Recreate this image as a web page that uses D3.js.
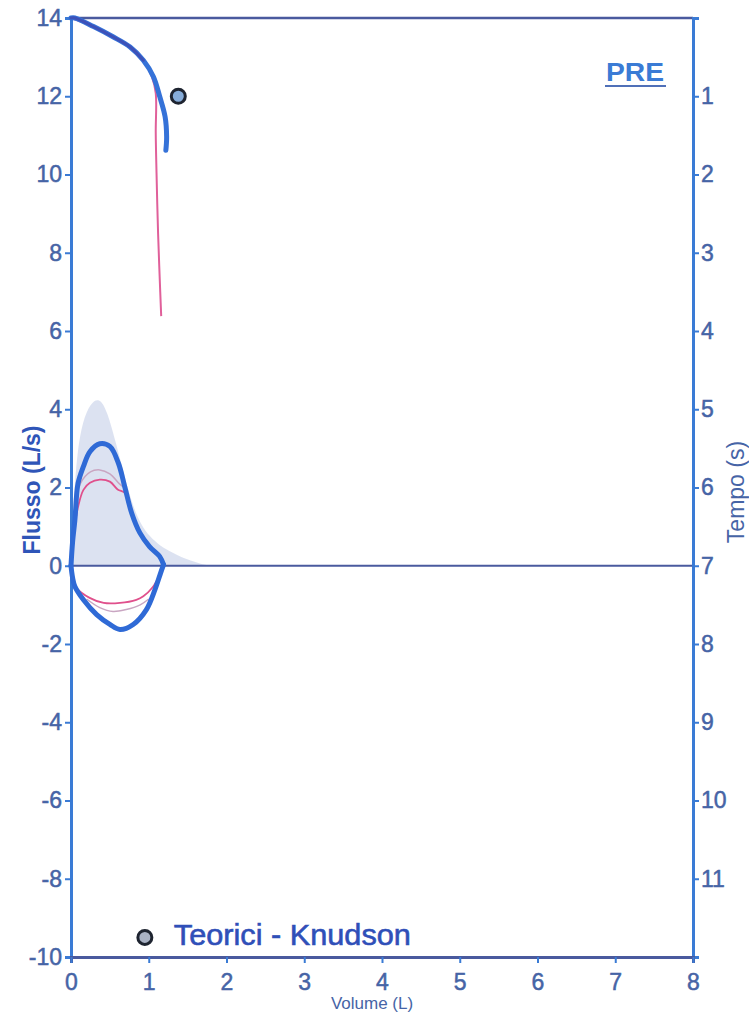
<!DOCTYPE html>
<html><head><meta charset="utf-8">
<script src="https://cdn.jsdelivr.net/npm/d3@7"></script>
<style>html,body{margin:0;padding:0;background:#fff;overflow:hidden}</style>
</head><body>
<svg id="c" width="749" height="1015"></svg>
<script>
// ---- data ----
const flowTicks = [-10,-8,-6,-4,-2,0,2,4,6,8,10,12,14];
const timeTicks = [1,2,3,4,5,6,7,8,9,10,11];
const volTicks = [0,1,2,3,4,5,6,7,8];
// flow-volume, best trial (blue): [volume, flow]
const blueExp = [[0,0],[0.02,0.6],[0.05,1.17],[0.09,2.1],[0.16,2.54],[0.245,2.92],[0.37,3.12],[0.5,3.05],[0.61,2.62],[0.69,2.03],[0.78,1.35],[0.886,0.84],[1.01,0.49],[1.14,0.24],[1.19,0.03]];
const blueInsp = [[1.19,0.03],[1.15,-0.2],[1.08,-0.61],[0.97,-1.12],[0.8,-1.5],[0.63,-1.63],[0.5,-1.5],[0.33,-1.25],[0.16,-0.87],[0.05,-0.53],[0.02,-0.3],[0,0]];
// second trial (pink)
const pinkExp = [[0,0],[0.04,0.9],[0.09,1.5],[0.16,1.94],[0.244,2.12],[0.37,2.2],[0.5,2.15],[0.6,1.95],[0.7,1.85],[0.78,1.35],[0.886,0.84],[1.01,0.49],[1.14,0.24],[1.18,0]];
const pinkInsp = [[1.15,-0.2],[1.05,-0.55],[0.93,-0.78],[0.84,-0.87],[0.63,-0.95],[0.42,-0.95],[0.24,-0.82],[0.07,-0.57],[0.02,-0.4]];
// third trial (faint)
const greyExp = [[0.05,1.5],[0.12,2.1],[0.25,2.4],[0.37,2.45],[0.5,2.35],[0.62,2.1],[0.68,2.0]];
const greyInsp = [[1.0,-0.85],[0.89,-1.0],[0.71,-1.12],[0.54,-1.17],[0.37,-1.07],[0.2,-0.85]];
// predicted flow-volume area (Knudson)
const predArea = [[0,0],[0.03,1.6],[0.08,2.9],[0.15,3.7],[0.25,4.15],[0.36,4.3],[0.46,4.0],[0.59,3.05],[0.7,2.2],[0.8,1.5],[0.9,1.05],[1.01,0.75],[1.15,0.5],[1.31,0.33],[1.5,0.15],[1.66,0.05],[1.8,0]];
// volume-time: [volume, time]
const blueVT = [[0,0],[0.05,0.0],[0.29,0.11],[0.54,0.24],[0.76,0.37],[0.93,0.54],[1.06,0.75],[1.14,1.0],[1.21,1.26],[1.23,1.52],[1.22,1.69]];
const pinkVT = [[0,0],[0.29,0.11],[0.54,0.24],[0.76,0.37],[0.93,0.54],[1.04,0.75],[1.09,0.96],[1.09,1.47],[1.1,1.98],[1.12,2.75],[1.14,3.3],[1.16,3.81]];
const predFEV1 = [1.38, 1.0];   // [volume, time]
const legendPt = [0.95, -9.5];  // [volume, flow]

// ---- scales ----
const svg = d3.select("#c");
const x = d3.scaleLinear().domain([0,8]).range([71,693]);
const y = d3.scaleLinear().domain([-10,14]).range([957,18]);
const t = d3.scaleLinear().domain([0,12]).range([18,957]);

const tickCol = "#4664a6";
const axisBlue = "#3a7bd5";
const darkLine = "#4a5a9e";
const fmt = d => String(d).replace("\u2212","-");

// predicted area
svg.append("path").datum(predArea)
  .attr("d", d3.area().x(d=>x(d[0])).y0(y(0)).y1(d=>y(d[1])).curve(d3.curveBasis))
  .attr("fill","#d3dbee").attr("opacity",0.8);

// frame lines
svg.append("line").attr("x1",x(0)).attr("x2",x(8)).attr("y1",y(14)).attr("y2",y(14))
  .attr("stroke",darkLine).attr("stroke-width",2.5);
svg.append("line").attr("x1",x(0)).attr("x2",x(8)).attr("y1",y(0)).attr("y2",y(0))
  .attr("stroke",darkLine).attr("stroke-width",2);

// axes
const fontFam = "'Liberation Sans', Arial, sans-serif";
const gL = svg.append("g").attr("transform",`translate(${x(0)},0)`)
  .call(d3.axisLeft(y).tickValues(flowTicks).tickFormat(fmt).tickSize(6).tickPadding(3));
const gR = svg.append("g").attr("transform",`translate(${x(8)},0)`)
  .call(d3.axisRight(t).tickValues(timeTicks).tickFormat(fmt).tickSize(6).tickPadding(2));
const gB = svg.append("g").attr("transform",`translate(0,${y(-10)})`)
  .call(d3.axisBottom(x).tickValues(volTicks).tickFormat(fmt).tickSize(6).tickPadding(11));
[gL,gR,gB].forEach(g=>{
  g.select(".domain").attr("stroke",axisBlue).attr("stroke-width",3);
  g.selectAll(".tick line").attr("stroke",axisBlue).attr("stroke-width",2);
  g.selectAll(".tick text").attr("fill",tickCol).attr("stroke",tickCol).attr("stroke-width",0.5)
    .attr("font-size",23).attr("font-family",fontFam);
});
gB.select(".domain").attr("stroke",darkLine);

const line = d3.line().x(d=>x(d[0])).y(d=>y(d[1])).curve(d3.curveCatmullRom);
const lineVT = d3.line().x(d=>x(d[0])).y(d=>t(d[1])).curve(d3.curveCatmullRom);

// faint third trial
[greyExp, greyInsp].forEach(s=>svg.append("path").datum(s).attr("d",line)
  .attr("fill","none").attr("stroke","#c9a6c2").attr("stroke-width",1.5));
// pink trial
[pinkExp, pinkInsp].forEach(s=>svg.append("path").datum(s).attr("d",line)
  .attr("fill","none").attr("stroke","#e0508c").attr("stroke-width",1.8));
svg.append("path").datum(pinkVT).attr("d",lineVT)
  .attr("fill","none").attr("stroke","#e0609a").attr("stroke-width",2);
// blue best trial
[blueExp, blueInsp].forEach(s=>svg.append("path").datum(s).attr("d",line)
  .attr("fill","none").attr("stroke","#2f6ad6").attr("stroke-width",5).attr("stroke-linejoin","round").attr("stroke-linecap","round"));
svg.append("path").datum(blueVT).attr("d",lineVT)
  .attr("fill","none").attr("stroke","#3572d8").attr("stroke-width",5).attr("stroke-linecap","round");
svg.append("path").datum(blueVT.slice(0,6)).attr("d",lineVT)
  .attr("fill","none").attr("stroke","#4048b0").attr("stroke-width",3).attr("stroke-linecap","round").attr("opacity",0.8);

// predicted marker
svg.append("circle").attr("cx",x(predFEV1[0])).attr("cy",t(predFEV1[1])).attr("r",7)
  .attr("fill","#86acd9").attr("stroke","#1e2430").attr("stroke-width",3);
// legend
svg.append("circle").attr("cx",x(legendPt[0])).attr("cy",y(legendPt[1])).attr("r",7)
  .attr("fill","#a9b2c4").attr("stroke","#1e2430").attr("stroke-width",3);
svg.append("text").attr("x",x(legendPt[0])+29).attr("y",945)
  .attr("font-family",fontFam).attr("font-size",30).attr("fill","#2f4fb8")
  .attr("stroke","#2f4fb8").attr("stroke-width",0.6).attr("textLength",237).attr("lengthAdjust","spacingAndGlyphs")
  .text("Teorici - Knudson");

// PRE
svg.append("text").attr("x",606).attr("y",81).attr("font-family",fontFam).attr("font-weight","bold")
  .attr("font-size",26).attr("fill",axisBlue).attr("textLength",58).attr("lengthAdjust","spacingAndGlyphs").text("PRE");
svg.append("line").attr("x1",605).attr("x2",666).attr("y1",86).attr("y2",86)
  .attr("stroke","#5070b8").attr("stroke-width",2);

// axis titles
svg.append("text").attr("transform",`translate(40,490) rotate(-90)`).attr("text-anchor","middle")
  .attr("font-family",fontFam).attr("font-weight","bold").attr("font-size",23).attr("fill","#2f55b8").text("Flusso (L/s)");
svg.append("text").attr("transform",`translate(744,492) rotate(-90)`).attr("text-anchor","middle")
  .attr("font-family",fontFam).attr("font-size",23).attr("fill","#4664a6").text("Tempo (s)");
svg.append("text").attr("x",372).attr("y",1009).attr("text-anchor","middle")
  .attr("font-family",fontFam).attr("font-size",17).attr("fill","#4664a6").text("Volume (L)");
</script>
</body></html>
